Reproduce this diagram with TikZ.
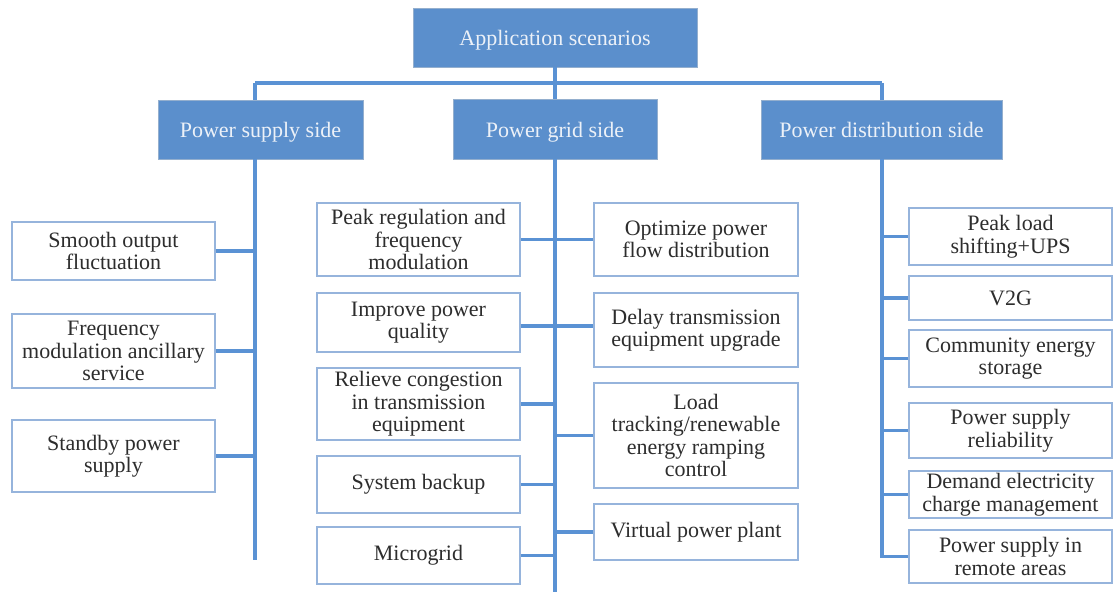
\documentclass[tikz,border=0pt]{standalone}
\usepackage{fontspec}
\setmainfont{Liberation Serif}
\definecolor{headfill}{RGB}{91,143,204}
\definecolor{headtext}{RGB}{236,241,248}
\definecolor{leafline}{RGB}{150,180,220}
\definecolor{wire}{RGB}{90,146,212}
\definecolor{leaftext}{RGB}{45,45,45}
\begin{document}
\begin{tikzpicture}[x=1pt,y=-1pt,
  head/.style={rectangle, fill=headfill, draw=headfill!85!black!60, line width=0.6pt,
    text=headtext, font=\fontsize{22}{22.5}\selectfont, inner sep=0pt,
    text height=16pt, text depth=0pt},
  leaf/.style={rectangle, draw=leafline, line width=1.4pt, fill=white,
    text=leaftext, font=\fontsize{22}{22.5}\selectfont, align=center, inner sep=0pt,
    minimum width=203},
  link/.style={draw=wire, line width=3.2pt}]
\useasboundingbox (0,0) rectangle (1114,592);

% top level and the three sides
\node[head, minimum width=284, minimum height=59] (root) at (555,37.5) {Application scenarios};
\node[head, minimum width=205, minimum height=59] (supply) at (260.5,129.5) {Power supply side};
\node[head, minimum width=204, minimum height=60] (grid) at (555,129) {Power grid side};
\node[head, minimum width=241, minimum height=59] (dist) at (881.5,129.5) {Power distribution side};

% power supply side
\node[leaf, minimum height=58] (s1) at (113.5,251) {Smooth output\\fluctuation};
\node[leaf, minimum height=74] (s2) at (113.5,351) {Frequency\\modulation ancillary\\service};
\node[leaf, minimum height=72] (s3) at (113.5,456) {Standby power\\supply};

% power grid side, left column
\node[leaf, minimum height=73] (g1) at (418.5,239.5) {Peak regulation and\\frequency\\modulation};
\node[leaf, minimum height=59] (g2) at (418.5,322.5) {Improve power\\quality};
\node[leaf, minimum height=72] (g3) at (418.5,404) {Relieve congestion\\in transmission\\equipment};
\node[leaf, minimum height=57] (g4) at (418.5,484.5) {System backup};
\node[leaf, minimum height=57] (g5) at (418.5,555.5) {Microgrid};

% power grid side, right column
\node[leaf, minimum width=204, minimum height=73] (h1) at (696,239.5) {Optimize power\\flow distribution};
\node[leaf, minimum width=204, minimum height=74] (h2) at (696,330) {Delay transmission\\equipment upgrade};
\node[leaf, minimum width=204, minimum height=105] (h3) at (696,435.5) {Load\\tracking/renewable\\energy ramping\\control};
\node[leaf, minimum width=204, minimum height=56] (h4) at (696,532) {Virtual power plant};

% power distribution side
\node[leaf, minimum height=57] (d1) at (1010.5,236.5) {Peak load\\shifting+UPS};
\node[leaf, minimum height=44] (d2) at (1010.5,298) {V2G};
\node[leaf, minimum height=57] (d3) at (1010.5,358.5) {Community energy\\storage};
\node[leaf, minimum height=55] (d4) at (1010.5,430.5) {Power supply\\reliability};
\node[leaf, minimum height=47] (d5) at (1010.5,494.5) {Demand electricity\\charge management};
\node[leaf, minimum height=53] (d6) at (1010.5,556.5) {Power supply in\\remote areas};

% bus and spines
\coordinate (busL) at (255,83);
\coordinate (busR) at (882,83);
\coordinate (spineL) at (255,560);
\coordinate (spineM) at (555,592);
\coordinate (spineR) at (882,558);
\coordinate (midrow) at (555,326);

\path[link] (busL) -- (busR);
\path[link] (busL) -- (busL |- supply.north);
\path[link] (busR) -- (busR |- dist.north);
\path[link] (root.south) -- (grid.north);
\path[link] (busL |- supply.south) -- (spineL);
\path[link] (grid.south) -- (spineM);
\path[link] (busR |- dist.south) -- (spineR);

\foreach \n in {s1,s2,s3} \path[link] (\n.east) -- (\n.east -| spineL);
\foreach \n in {g1,g3,g4,g5} \path[link] (\n.east) -- (\n.east -| spineM);
\foreach \n in {h1,h3,h4} \path[link] (\n.west) -- (\n.west -| spineM);
\path[link] (g2.east |- midrow) -- (h2.west |- midrow);
\foreach \n in {d1,d2,d3,d4,d5,d6} \path[link] (\n.west) -- (\n.west -| spineR);
\end{tikzpicture}
\end{document}
